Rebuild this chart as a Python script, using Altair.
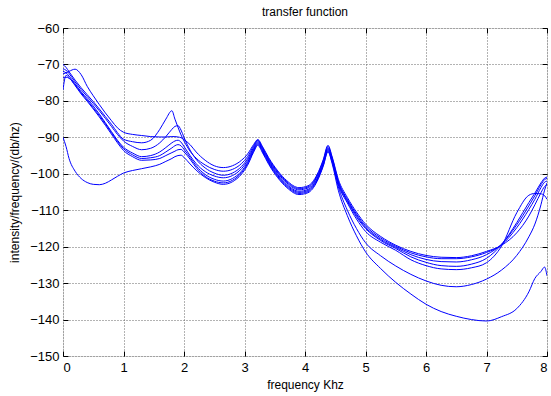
import altair as alt
import pandas as pd

freq = [0, 0.05, 0.1, 0.2, 0.3, 0.4, 0.5, 0.6, 0.7, 0.8, 0.9, 1.0, 1.15, 1.3, 1.45,
        1.6, 1.7, 1.8, 1.85, 1.9, 1.95, 2.0, 2.1, 2.2, 2.35, 2.5, 2.65, 2.8, 2.95, 3.05,
        3.15, 3.22, 3.3, 3.4, 3.55, 3.7, 3.9, 4.05, 4.2, 4.3, 4.38, 4.45, 4.55, 4.7, 4.85,
        5.0, 5.25, 5.5, 5.75, 6.0, 6.25, 6.5, 6.75, 7.0, 7.25, 7.5, 7.7, 7.8, 7.9, 7.96, 8.0]

curve_a = [-72.6, -72.3, -71.9, -71.3, -72.8, -76.0, -78.6, -81.0, -83.3, -85.4, -87.4, -88.6, -89.2, -89.5, -89.8,
           -89.9, -89.9, -89.8, -89.8, -89.9, -90.1, -90.6, -92.0, -94.0, -96.3, -97.8, -98.3, -97.8, -96.3, -94.6,
           -92.0, -90.6, -92.6, -95.6, -99.2, -101.9, -103.8, -103.3, -100.2, -96.2, -92.2, -95.4, -101.5, -106.5, -110.5,
           -113.8, -117.2, -119.6, -121.3, -122.4, -122.9, -123.0, -122.5, -121.3, -119.6, -116.2, -111.6, -108.5, -105.2, -103.5, -103.0]

curve_b = [-70.0, -70.8, -72.0, -74.3, -76.4, -78.3, -80.2, -82.2, -84.3, -86.4, -88.7, -90.5, -91.2, -91.5, -90.8,
           -87.8, -85.0, -82.7, -85.0, -87.2, -89.3, -91.0, -93.8, -95.7, -97.6, -98.8, -99.3, -98.8, -97.2, -95.3,
           -92.4, -90.8, -92.9, -95.9, -99.5, -102.2, -104.1, -103.6, -100.5, -96.5, -92.5, -95.7, -102.0, -107.0, -111.0,
           -114.3, -117.6, -119.9, -121.7, -122.8, -123.3, -123.3, -122.8, -121.6, -119.5, -114.8, -109.8, -107.0, -103.8, -102.3, -102.0]

curve_c = [-71.2, -71.6, -72.5, -74.8, -76.9, -78.8, -80.7, -82.7, -84.8, -87.0, -89.2, -91.0, -92.5, -93.4, -93.0,
           -91.5, -89.8, -87.8, -87.0, -86.8, -88.0, -90.0, -93.5, -96.0, -98.4, -99.8, -100.4, -99.8, -98.0, -95.9,
           -92.8, -91.0, -93.1, -96.2, -99.8, -102.5, -104.4, -103.9, -100.8, -96.9, -92.9, -96.0, -102.3, -107.3, -111.4,
           -114.7, -118.0, -120.2, -122.2, -123.5, -124.1, -124.2, -123.6, -122.2, -119.3, -114.0, -108.8, -106.0, -103.0, -101.6, -101.3]

curve_d = [-71.9, -72.3, -73.2, -75.3, -77.5, -79.4, -81.4, -83.6, -86.0, -88.4, -90.8, -92.7, -94.3, -95.3, -95.0,
           -94.0, -92.8, -91.5, -91.0, -90.8, -91.3, -92.5, -95.0, -97.2, -99.4, -100.6, -101.1, -100.5, -98.6, -96.4,
           -93.2, -91.3, -93.4, -96.5, -100.2, -102.9, -104.8, -104.3, -101.2, -97.2, -93.2, -96.3, -102.6, -107.6, -111.8,
           -115.0, -118.3, -120.5, -122.8, -124.3, -125.2, -125.4, -124.8, -123.2, -119.4, -113.4, -107.9, -105.3, -102.5, -101.2, -100.9]

curve_e = [-73.7, -73.5, -73.8, -75.6, -77.8, -79.8, -81.9, -84.0, -86.3, -88.7, -91.1, -93.1, -94.8, -95.8, -95.6,
           -95.0, -94.0, -92.9, -92.3, -92.0, -92.3, -93.3, -95.5, -97.8, -100.2, -101.5, -102.0, -101.3, -99.3, -96.9,
           -93.5, -91.6, -93.7, -96.8, -100.5, -103.2, -105.1, -104.6, -101.5, -97.5, -93.5, -96.6, -103.0, -108.0, -112.4,
           -115.8, -118.8, -121.0, -123.6, -125.2, -126.1, -126.3, -125.8, -124.4, -119.8, -110.7, -105.9, -105.4, -105.5, -106.0, -107.0]

curve_f = [-77.0, -73.0, -73.6, -75.8, -78.1, -80.1, -82.2, -84.4, -86.7, -89.1, -91.5, -93.6, -95.3, -96.3, -96.2,
           -95.8, -95.0, -94.2, -93.8, -93.4, -93.3, -94.0, -96.0, -98.3, -100.7, -102.0, -102.5, -101.8, -99.7, -97.3,
           -93.8, -91.9, -94.0, -97.1, -100.8, -103.5, -105.4, -104.9, -101.8, -97.8, -93.8, -96.9, -103.5, -110.0, -115.0,
           -118.9, -122.5, -125.3, -127.6, -129.4, -130.6, -131.0, -130.4, -128.9, -126.4, -122.4, -117.3, -113.8, -108.5, -104.5, -102.5]

curve_g = [-90.0, -92.5, -95.8, -99.3, -101.3, -102.4, -102.9, -103.0, -102.6, -101.7, -100.7, -99.8, -99.1, -98.6, -98.1,
           -97.4, -96.6, -95.8, -95.3, -95.0, -94.9, -95.5, -97.3, -99.0, -101.0, -102.3, -102.9, -102.2, -100.1, -97.7,
           -94.1, -92.2, -94.3, -97.4, -101.1, -103.8, -105.7, -105.2, -102.1, -98.0, -94.0, -97.3, -104.5, -111.5, -117.0,
           -121.4, -126.0, -129.8, -133.0, -135.8, -137.8, -139.1, -140.0, -140.4, -139.2, -137.0, -132.4, -128.7, -126.8, -125.6, -128.0]

names = ["a", "b", "c", "d", "e", "f", "g"]
curves = [curve_a, curve_b, curve_c, curve_d, curve_e, curve_f, curve_g]

x_ticks = [0, 1, 2, 3, 4, 5, 6, 7, 8]
y_ticks = [-150, -140, -130, -120, -110, -100, -90, -80, -70, -60]
chart_title = ["transfer function"]

rows = []
for name, vals in zip(names, curves):
    for f, v in zip(freq, vals):
        rows.append({"freq": f, "db": v, "curve": name})
df = pd.DataFrame(rows)

FONT = "Liberation Sans"
xs = alt.Scale(domain=[0, 8], nice=False, zero=False)
ys = alt.Scale(domain=[-150, -60], nice=False, zero=False)

grid_kw = dict(grid=True, gridColor="#666666", gridDash=[1, 2], gridWidth=1, gridOpacity=1)
tick_kw = dict(ticks=True, tickSize=5, tickColor="#000000", tickWidth=1, offset=-5, domain=False)
lab_kw = dict(labelFont=FONT, labelFontSize=13, labelColor="#000000",
              titleFont=FONT, titleFontSize=12, titleFontWeight="normal", titleColor="#000000")

main = alt.Chart(df).mark_line(color="#0000ff", strokeWidth=1, interpolate="monotone", clip=True).encode(
    x=alt.X("freq:Q", scale=xs, axis=alt.Axis(orient="bottom", values=x_ticks, title="frequency Khz",
                                               labelPadding=5, titlePadding=5, format="d",
                                               **grid_kw, **tick_kw, **lab_kw)),
    y=alt.Y("db:Q", scale=ys, axis=alt.Axis(orient="left", values=y_ticks, title="intensity/frequency/(db/hz)",
                                             labelPadding=4, titlePadding=8, format="d",
                                             **grid_kw, **tick_kw, **lab_kw)),
    detail="curve:N",
)

frame = alt.Chart(df).mark_line(opacity=0).encode(
    x=alt.X("freq:Q", scale=xs, axis=alt.Axis(orient="top", values=x_ticks, labels=False, title=None,
                                               grid=False, **tick_kw)),
    y=alt.Y("db:Q", scale=ys, axis=alt.Axis(orient="right", values=y_ticks, labels=False, title=None,
                                             grid=False, **tick_kw)),
    detail="curve:N",
)

title_layer = alt.Chart(pd.DataFrame({"t": chart_title})).mark_text(
    font=FONT, fontSize=12, color="#000000", align="center", baseline="bottom"
).encode(text="t:N", x=alt.value(242), y=alt.value(-9))

chart = alt.layer(main, frame, title_layer).resolve_axis(x="independent", y="independent").properties(
    width=484, height=328,
    autosize=alt.AutoSizeParams(type="none"),
    padding={"left": 63, "top": 28, "right": 4, "bottom": 40},
).configure_view(stroke="#000000", strokeWidth=1.2).configure(background="#ffffff")

chart.save("out.html", embed_options={"renderer": "svg", "actions": False})
